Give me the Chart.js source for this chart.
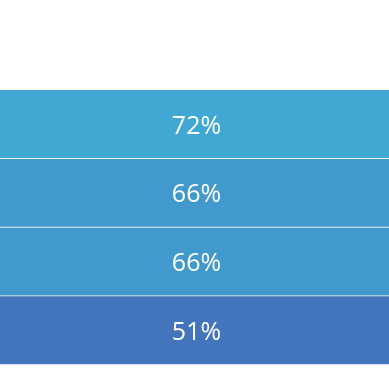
<!DOCTYPE html>
<html>
<head>
<meta charset="UTF-8">
<title>Bands</title>
<script src="https://cdn.jsdelivr.net/npm/chart.js@4.4.1/dist/chart.umd.min.js"></script>
<style>
  html, body { margin: 0; padding: 0; background: #fff; }
  #container { width: 389px; height: 389px; }
</style>
</head>
<body>
<div id="container">
  <canvas id="canvas"></canvas>
</div>
<script>
// data
const categories = ["A", "B", "C", "D"];
const values = [72, 66, 66, 51];

// colour scale: low value -> darker blue, high -> light cyan
const lowColor = [67, 117, 188];
const highColor = [64, 168, 211];
const vMin = Math.min(...values), vMax = Math.max(...values);
function scaleColor(v) {
  const t = vMax === vMin ? 1 : (v - vMin) / (vMax - vMin);
  const c = lowColor.map((l, i) => Math.round(l + (highColor[i] - l) * t));
  return "rgb(" + c.join(",") + ")";
}

// writes the value in the middle of each band
const centerLabels = {
  id: "centerLabels",
  afterDatasetsDraw(chart) {
    const ctx = chart.ctx;
    const meta = chart.getDatasetMeta(0);
    ctx.save();
    ctx.fillStyle = "#ffffff";
    ctx.font = "25px 'Open Sans'";
    ctx.textAlign = "center";
    ctx.textBaseline = "middle";
    meta.data.forEach((bar, i) => {
      const cx = (chart.chartArea.left + chart.chartArea.right) / 2 + 2;
      ctx.fillText(values[i] + "%", cx, bar.y + 2);
    });
    ctx.restore();
  }
};

new Chart(document.getElementById("canvas"), {
  type: "bar",
  data: {
    labels: categories,
    datasets: [{
      data: categories.map(() => 1), // every cell spans the full row
      backgroundColor: values.map(scaleColor),
      borderColor: "#ffffff",
      borderWidth: { top: 0, left: 0, right: 0, bottom: 1 },
      borderSkipped: false,
      categoryPercentage: 1,
      barPercentage: 1
    }]
  },
  options: {
    indexAxis: "y",
    responsive: true,
    maintainAspectRatio: false,
    animation: false,
    layout: { padding: { top: 90, bottom: 24, left: 0, right: 0 } },
    scales: {
      x: { display: false, min: 0, max: 1 },
      y: { display: false }
    },
    plugins: {
      legend: { display: false },
      tooltip: { enabled: false }
    }
  },
  plugins: [centerLabels]
});
</script>
</body>
</html>
